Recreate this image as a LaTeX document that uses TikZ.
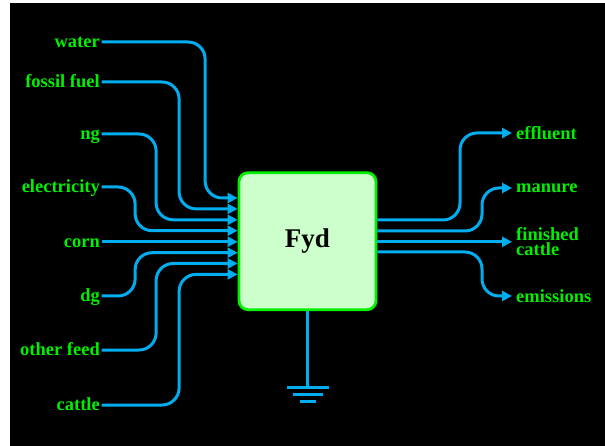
\documentclass[tikz,border=0pt]{standalone}
\usepackage{fontspec}
\setmainfont{Liberation Serif}
\usepackage{tikz}
\usetikzlibrary{arrows.meta}
\definecolor{flow}{HTML}{00AEEF}
\definecolor{lime}{HTML}{00F000}
\definecolor{unitfill}{HTML}{CCFFCC}

\begin{document}
\begin{tikzpicture}[
  x=1pt,y=-1pt,
  lbl/.style={font=\fontsize{18.5}{15}\selectfont\bfseries,text=lime,inner ysep=0pt,inner xsep=1.5pt,text height=11pt,text depth=0pt},
  rlbl/.style={font=\fontsize{18.5}{15.5}\selectfont\bfseries,text=lime,inner ysep=0pt,inner xsep=4pt,align=left},
  unit/.style={draw=lime,fill=unitfill,line width=2.8pt,rounded corners=9pt,minimum width=137pt,minimum height=137pt,font=\fontsize{27}{30}\selectfont\bfseries},
  wire/.style={draw=flow,line width=3pt},
  pipe/.style={wire,rounded corners=17pt},
  feed/.style={pipe,-{Triangle[length=10pt,width=10pt]}},
]

\fill[white] (0,0) rectangle (605,446);
\fill[black] (10,3) rectangle (605,446);
\useasboundingbox (0,0) rectangle (605,446);

% the unit
\node[unit] (fyd) at (307.5,241.2) {Fyd};

% inputs
\node[lbl,anchor=east] (water) at (101.5,42) {water};
\node[lbl,anchor=east] (fossil) at (101.5,82) {fossil fuel};
\node[lbl,anchor=east] (ng) at (101.5,134) {ng};
\node[lbl,anchor=east] (elec) at (101.5,187) {electricity};
\node[lbl,anchor=east] (corn) at (101.5,241.8) {corn};
\node[lbl,anchor=east] (dg) at (101.5,296) {dg};
\node[lbl,anchor=east] (other) at (101.5,350) {other feed};
\node[lbl,anchor=east] (cattle) at (101.5,405) {cattle};

\draw[feed] (water.east) -| ([xshift=-32.5pt,yshift=43.2pt]fyd.west) -- ([yshift=43.2pt]fyd.west);
\draw[feed] (fossil.east) -| ([xshift=-58.5pt,yshift=32.3pt]fyd.west) -- ([yshift=32.3pt]fyd.west);
\draw[feed] (ng.east) -| ([xshift=-81.5pt,yshift=21.4pt]fyd.west) -- ([yshift=21.4pt]fyd.west);
\draw[feed] (elec.east) -| ([xshift=-102.5pt,yshift=10.5pt]fyd.west) -- ([yshift=10.5pt]fyd.west);
\draw[feed] (corn.east) -- (fyd.west |- corn.east);
\draw[feed] (dg.east) -| ([xshift=-102.5pt,yshift=-11.5pt]fyd.west) -- ([yshift=-11.5pt]fyd.west);
\draw[feed] (other.east) -| ([xshift=-81.5pt,yshift=-22.3pt]fyd.west) -- ([yshift=-22.3pt]fyd.west);
\draw[feed] (cattle.east) -| ([xshift=-58.5pt,yshift=-33.2pt]fyd.west) -- ([yshift=-33.2pt]fyd.west);

% outputs
\node[rlbl,anchor=west] (effluent) at (512,133) {effluent};
\node[rlbl,anchor=west] (manure) at (512,188) {manure};
\node[rlbl,anchor=west] (finished) at (512,241.8) {finished\\cattle};
\node[rlbl,anchor=west] (emissions) at (512,296) {emissions};

\draw[feed] ([yshift=21.2pt]fyd.east) -| ([xshift=-52pt]effluent.west) -- (effluent.west);
\draw[feed] ([yshift=10.2pt]fyd.east) -| ([xshift=-30pt]manure.west) -- (manure.west);
\draw[feed] (fyd.east |- finished.west) -- (finished.west);
\draw[feed] ([yshift=-10.8pt]fyd.east) -| ([xshift=-30pt]emissions.west) -- (emissions.west);

% ground
\coordinate (gnd) at (307.5,387);
\draw[wire] (fyd.south) -- (gnd);
\draw[wire] ([xshift=-21pt]gnd) -- ([xshift=21pt]gnd);
\draw[wire] ([xshift=-15pt,yshift=-7pt]gnd) -- ([xshift=15pt,yshift=-7pt]gnd);
\draw[wire] ([xshift=-8pt,yshift=-14pt]gnd) -- ([xshift=8pt,yshift=-14pt]gnd);
\end{tikzpicture}
\end{document}
